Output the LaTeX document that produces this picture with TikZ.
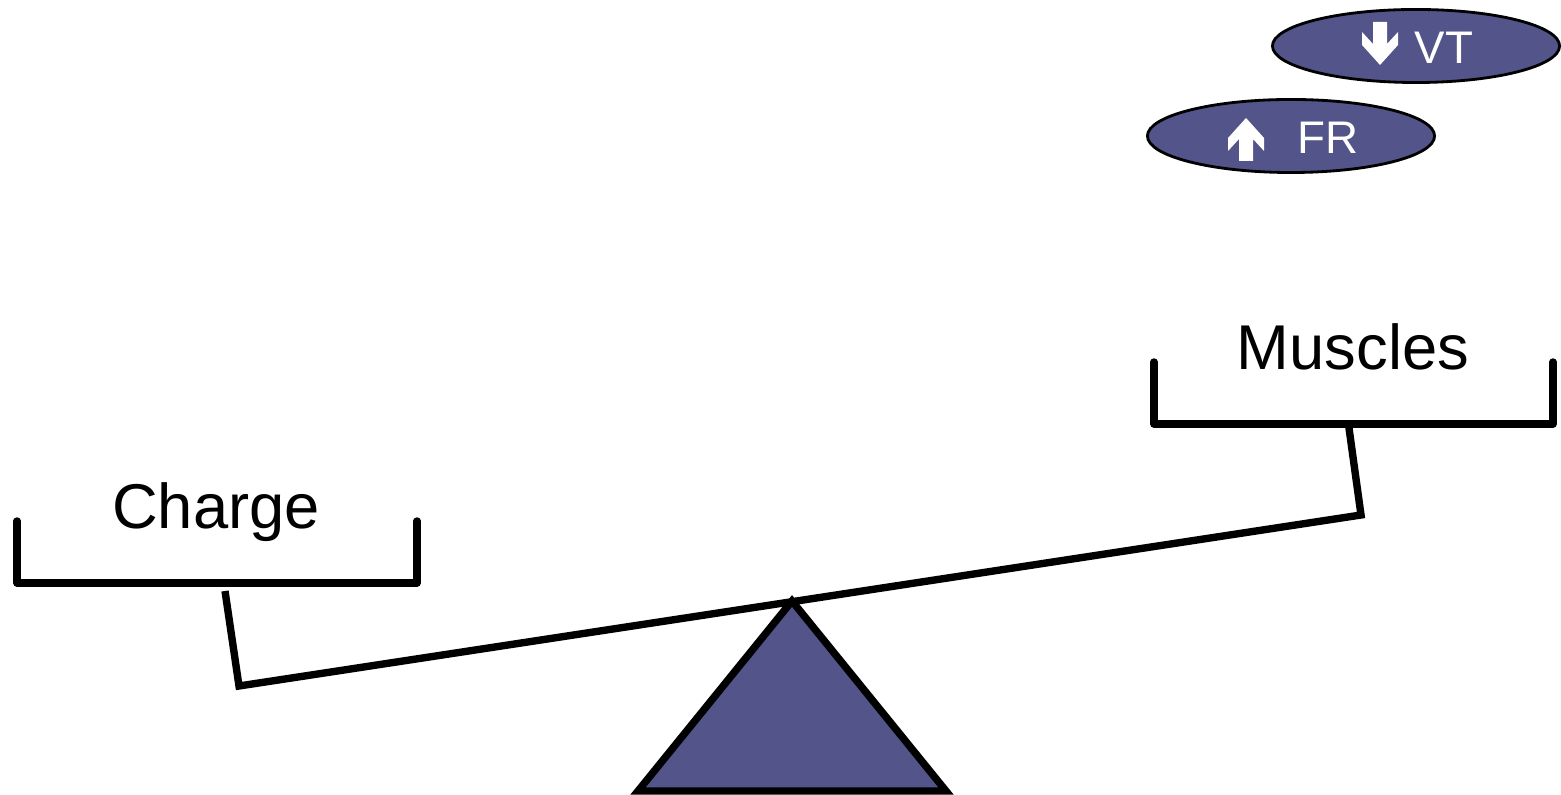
\documentclass[tikz,border=0pt]{standalone}
\usepackage{fontspec}
\setmainfont{Liberation Sans}
\usetikzlibrary{shapes.geometric,positioning}
\definecolor{slate}{RGB}{83,84,137}

% flecha blanca gruesa (posicion, giro)
\newcommand{\fatarrow}[2]{%
  \fill[white, shift={#1}, rotate=#2] (-7,-21) -- (7,-21) -- (7,1) -- (18,-11) -- (18,2)
    -- (0,22) -- (-18,2) -- (-18,-11) -- (-7,1) -- cycle;}

\begin{document}
\begin{tikzpicture}[
        x=0.01cm, y=-0.01cm,
        % Estilos
        pan/.style={line width=2.1pt, line join=round, line cap=round},
        beam/.style={line width=2.1pt, line join=miter},
        fulcrum/.style={fill=slate, draw=black, line width=2.1pt, line join=miter},
        badge/.style={ellipse, draw=black, line width=0.8pt, fill=slate, minimum width=2.87cm, minimum height=0.73cm, inner sep=0pt},
        badgetext/.style={anchor=base west, inner sep=0pt, text=white, font=\fontsize{13}{15}\selectfont},
        weight/.style={anchor=base, inner sep=0pt, font=\fontsize{18}{20}\selectfont}
    ]
    \useasboundingbox (0,0) rectangle (1561,795);

    % Platillos
    \draw[pan] (17,521) -- (17,583) -- (417,583) -- (417,521);
    \draw[pan] (1154,362) -- (1154,424) -- (1553,424) -- (1553,362);
    \node[weight] (charge) at (216,529) {Charge};
    \node[weight] (muscles) at (1353,370) {Muscles};

    % Brazo de la balanza
    \coordinate (hangL) at (225,591);
    \coordinate (beamL) at (239,686);
    \coordinate (beamR) at (1361,515);
    \coordinate (hangR) at (1348,421);
    \draw[beam] (hangL) -- (beamL) -- (beamR) -- (hangR);

    % Punto de apoyo
    \draw[fulcrum] (792,601) -- (946,791) -- (638,791) -- cycle;

    % Indicadores
    \node[badge] (vt) at (1416,46) {};
    \node[badge] (fr) at (1291,136) {};
    \fatarrow{(1380,43)}{0}
    \fatarrow{(1246,140)}{180}
    \node[badgetext] (vtlabel) at (1414,64) {VT};
    \node[badgetext] (frlabel) at (1297,154) {FR};

\end{tikzpicture}
\end{document}
